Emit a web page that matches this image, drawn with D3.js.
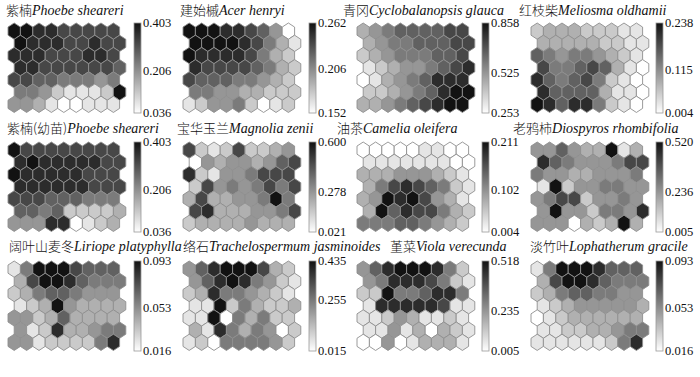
<!DOCTYPE html>
<html>
<head>
<meta charset="utf-8">
<script src="https://cdn.jsdelivr.net/npm/d3@7"></script>
<style>
  body { margin: 0; background: #fff; }
</style>
</head>
<body>
<div id="chart"></div>
<script>
// Species names and colour-bar ticks (min, middle, max) for each component plane
const cnNames = ["紫楠", "建始槭", "青冈", "红枝柴",
                 "紫楠(幼苗)", "宝华玉兰", "油茶", "老鸦柿",
                 "阔叶山麦冬", "络石", "堇菜", "淡竹叶"];
const latinNames = ["Phoebe sheareri", "Acer henryi", "Cyclobalanopsis glauca", "Meliosma oldhamii",
                    "Phoebe sheareri", "Magnolia zenii", "Camelia oleifera", "Diospyros rhombifolia",
                    "Liriope platyphylla", "Trachelospermum jasminoides", "Viola verecunda", "Lophatherum gracile"];
const barTicks = [
  [0.036, 0.206, 0.403], [0.152, 0.206, 0.262], [0.253, 0.525, 0.858], [0.004, 0.115, 0.238],
  [0.036, 0.206, 0.403], [0.021, 0.278, 0.600], [0.004, 0.102, 0.211], [0.005, 0.236, 0.520],
  [0.016, 0.053, 0.093], [0.015, 0.255, 0.435], [0.005, 0.235, 0.518], [0.016, 0.053, 0.093]
];

const phoebe = [
  [9,9,8,8,7,7,7,7,7],
  [9,8,8,8,7,7,8,7,7],
  [8,8,8,7,7,7,8,8,7],
  [8,8,7,7,7,7,7,7,6],
  [7,7,6,6,5,5,5,4,5],
  [5,5,4,2,1,1,1,2,9],
  [4,4,3,1,0,0,1,1,1]
];
const acer = [
  [9,9,9,8,8,7,6,4,0],
  [9,9,9,9,8,7,5,3,1],
  [9,8,8,8,8,7,5,3,2],
  [8,7,7,7,7,6,5,3,2],
  [7,6,6,6,5,5,4,3,2],
  [5,5,4,4,3,3,2,2,2],
  [1,2,4,4,5,2,0,1,2]
];
const cyclobalanopsis = [
  [3,4,5,6,6,6,6,7,7],
  [3,4,5,5,6,6,6,7,7],
  [2,3,4,5,5,5,6,6,7],
  [1,2,3,4,4,5,6,7,8],
  [0,1,3,4,5,6,8,8,8],
  [2,2,3,4,5,6,8,9,9],
  [3,3,4,5,6,7,8,9,9]
];
const meliosma = [
  [2,3,3,3,2,2,2,1,1],
  [3,3,3,3,3,2,2,1,1],
  [6,5,4,5,5,4,3,2,1],
  [7,5,5,6,7,6,3,1,0],
  [8,6,5,6,7,5,2,1,0],
  [8,6,6,6,6,3,1,1,0],
  [9,8,6,8,8,5,2,1,0]
];
const phoebeSeedling = [
  [9,7,7,7,7,7,7,7,7],
  [8,9,8,8,8,8,8,7,7],
  [9,8,8,8,8,8,7,7,7],
  [8,8,8,8,8,8,7,7,7],
  [7,7,7,6,6,6,5,5,5],
  [6,6,5,6,2,2,2,2,3],
  [4,4,4,8,8,0,1,2,3]
];
const magnolia = [
  [7,2,1,2,7,2,2,3,4],
  [0,4,3,4,4,3,4,6,7],
  [8,2,1,4,4,5,7,7,7],
  [2,7,4,5,4,5,7,5,7],
  [3,7,3,3,4,4,5,9,5],
  [7,8,3,3,3,4,4,5,7],
  [2,3,3,3,3,4,3,3,3]
];
const camelia = [
  [0,0,0,0,0,1,1,0,0],
  [1,1,1,1,1,1,1,0,0],
  [3,3,3,4,4,4,3,2,1],
  [3,5,7,8,7,6,5,2,1],
  [3,4,9,8,9,7,4,3,1],
  [3,9,6,8,7,7,5,3,2],
  [5,5,5,6,6,5,4,3,2]
];
const diospyros = [
  [4,4,6,4,3,3,9,1,3],
  [8,6,5,4,4,4,5,7,7],
  [5,4,4,3,3,4,4,4,5],
  [1,9,2,4,4,5,5,4,4],
  [4,5,7,7,2,4,4,5,4],
  [4,9,4,4,2,5,5,4,8],
  [4,4,4,0,3,2,3,9,3]
];
const liriope = [
  [1,5,9,9,9,7,6,6,6],
  [3,7,9,9,8,6,5,5,5],
  [2,3,5,6,6,5,4,4,4],
  [1,2,3,9,4,3,3,3,3],
  [4,4,2,3,6,3,3,3,3],
  [4,1,2,8,3,3,4,5,5],
  [4,4,1,2,2,2,2,5,8]
];
const trachelospermum = [
  [4,6,8,9,9,9,7,3,2],
  [4,6,8,9,8,5,4,2,1],
  [2,3,8,5,5,4,3,2,1],
  [1,1,9,2,5,3,2,2,3],
  [1,1,9,0,5,3,5,2,2],
  [3,1,8,5,3,5,4,0,2],
  [1,2,0,5,5,5,5,4,2]
];
const viola = [
  [4,6,8,9,9,9,8,5,2],
  [4,5,8,8,8,7,5,2,1],
  [2,2,9,5,5,6,8,8,5],
  [1,8,8,8,8,8,7,1,1],
  [1,1,2,4,3,1,1,2,1],
  [1,1,4,1,3,0,3,2,1],
  [0,0,4,0,1,3,3,3,1]
];
const lophatherum = [
  [1,5,9,9,9,8,6,6,6],
  [3,7,9,9,8,6,5,5,5],
  [2,3,5,6,6,5,5,4,4],
  [1,2,3,4,4,4,4,4,3],
  [0,1,2,3,3,3,3,3,3],
  [1,1,2,2,3,3,4,5,5],
  [1,1,1,1,1,1,2,5,8]
];
const planes = [phoebe, acer, cyclobalanopsis, meliosma,
                phoebeSeedling, magnolia, camelia, diospyros,
                liriope, trachelospermum, viola, lophatherum];

// ---- layout ----
const width = 700, height = 377;
const gridLeft = [8, 183, 357, 531];
const barLeft = [134, 309, 482, 656];
const rowTop = [23, 142, 261];
const titleLeft = [[6, 180, 343, 519], [7, 177, 337, 513], [9, 183, 390, 530]];
const titleBase = [15, 133, 251];
const hexW = 12.4, rowStep = 12.2, hexR = rowStep / 1.5;
const barW = 7, barH = 90;

const svg = d3.select("#chart").append("svg")
  .attr("width", width).attr("height", height)
  .style("background", "#fff");

const defs = svg.append("defs");
const grad = defs.append("linearGradient").attr("id", "grayBar")
  .attr("x1", 0).attr("y1", 1).attr("x2", 0).attr("y2", 0);
grad.append("stop").attr("offset", "0%").attr("stop-color", "#ffffff");
grad.append("stop").attr("offset", "100%").attr("stop-color", "#121212");

function hexPath(cx, cy) {
  const p = d3.path();
  const hw = hexW / 2;
  p.moveTo(cx, cy - hexR);
  p.lineTo(cx + hw, cy - hexR / 2);
  p.lineTo(cx + hw, cy + hexR / 2);
  p.lineTo(cx, cy + hexR);
  p.lineTo(cx - hw, cy + hexR / 2);
  p.lineTo(cx - hw, cy - hexR / 2);
  p.closePath();
  return p.toString();
}

const fmt = d3.format(".3f");

planes.forEach((plane, i) => {
  const row = Math.floor(i / 4), col = i % 4;
  const top = rowTop[row];
  const [vMin, vMid, vMax] = barTicks[i];

  const levelToValue = d3.scaleLinear().domain([0, 9]).range([vMin, vMax]);
  const shade = d3.scaleLinear().domain([vMin, vMax]).range(["#ffffff", "#121212"]);

  const x = d3.scaleLinear().domain([-0.5, 9]).range([gridLeft[col], gridLeft[col] + 9.5 * hexW]);
  const y = d3.scaleLinear().domain([0, 6]).range([top + hexR, top + hexR + 6 * rowStep]);

  const cells = [];
  plane.forEach((r, ri) => r.forEach((lv, ci) => {
    cells.push({ r: ri, c: ci, value: levelToValue(lv) });
  }));

  const g = svg.append("g");
  g.selectAll("path.hex").data(cells).enter().append("path")
    .attr("class", "hex")
    .attr("d", d => hexPath(x(d.c + (d.r % 2 ? 0.5 : 0)), y(d.r)))
    .attr("fill", d => shade(d.value))
    .attr("stroke", "#8f8f8f")
    .attr("stroke-width", 0.9);

  // colour bar
  const bx = barLeft[col];
  const by = d3.scaleLinear().domain([vMin, vMax]).range([top + barH, top]);
  g.append("rect")
    .attr("x", bx).attr("y", top).attr("width", barW).attr("height", barH)
    .attr("fill", "url(#grayBar)")
    .attr("stroke", "#9a9a9a").attr("stroke-width", 0.8);

  g.selectAll("text.tick").data(barTicks[i]).enter().append("text")
    .attr("class", "tick")
    .attr("x", bx + barW + 2)
    .attr("y", d => by(d))
    .attr("dy", "0.33em")
    .style("font-family", "'Liberation Serif', 'Times New Roman', serif")
    .style("font-size", "12.5px")
    .style("fill", "#111")
    .text(d => fmt(d));

  // title
  const t = svg.append("text")
    .attr("x", titleLeft[row][col])
    .attr("y", titleBase[row])
    .style("font-size", "13px")
    .style("fill", "#111");
  t.append("tspan")
    .style("font-family", "'Noto Sans CJK SC', sans-serif")
    .style("font-weight", 300)
    .text(cnNames[i]);
  t.append("tspan")
    .style("font-family", "'Liberation Serif', 'Times New Roman', serif")
    .style("font-style", "italic")
    .style("font-size", "14px")
    .text(latinNames[i]);
});
</script>
</body>
</html>
